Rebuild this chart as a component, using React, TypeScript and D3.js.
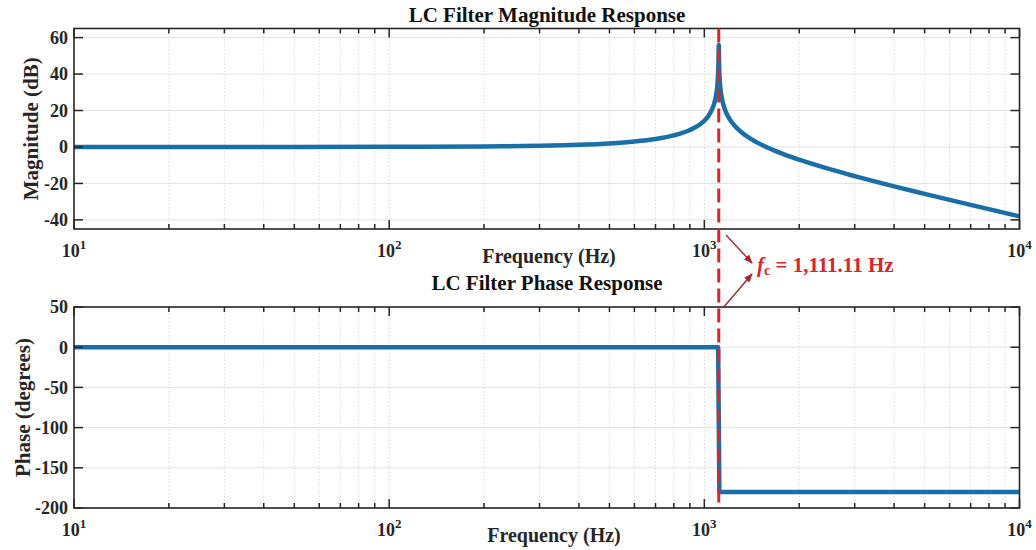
import React from "react";
import * as d3 from "d3";

// ---- data ----
const magFreq = [10, 20, 50, 100, 200, 300, 400, 500, 600, 700, 800, 900, 950, 1000, 1030, 1050, 1070, 1080, 1090, 1095, 1100, 1103, 1105, 1108, 1110, 1111.11, 1112, 1114, 1117, 1120, 1125, 1130, 1140, 1150, 1170, 1200, 1250, 1300, 1400, 1500, 1700, 2000, 2500, 3000, 4000, 5000, 7000, 10000];
const magDb = [0, 0.003, 0.018, 0.07, 0.29, 0.66, 1.21, 1.97, 3.0, 4.39, 6.35, 9.27, 11.4, 14.42, 17.03, 19.41, 22.78, 25.16, 28.48, 30.81, 34.0, 36.7, 39.2, 44.7, 51.9, 56, 53, 45.3, 39.3, 35.9, 32.0, 29.3, 25.6, 22.95, 19.3, 15.6, 11.5, 8.66, 4.62, 1.7, -2.55, -7.0, -12.2, -16.0, -21.6, -25.7, -31.75, -38.06];
const phaseFreq = [10, 1106, 1111.11, 1116, 10000];
const phaseDeg = [0, 0, -90, -180, -180];
const magTicks = [-40, -20, 0, 20, 40, 60];
const phaseTicks = [-200, -150, -100, -50, 0, 50];
const decadeExps = [1, 2, 3, 4];
const cutoffHz = 1111.11;
const cutoffLabel = "1,111.11 Hz";

const FONT = "'Liberation Serif', 'Times New Roman', serif";
const AX = "#262626";
const BLUE = "#1b6fa8";
const RED = "#d8262b";
const DARKRED = "#a8262b";

const X0 = 74, X1 = 1019.5;
const x = d3.scaleLog().domain([10, 10000]).range([X0, X1]);

const minorFreqs: number[] = [];
[10, 100, 1000].forEach((d) => {
  for (let k = 2; k <= 9; k++) minorFreqs.push(k * d);
});

type PanelProps = {
  top: number;
  bottom: number;
  domain: [number, number];
  ticks: number[];
  title: string;
  ylabel: string;
  ylabelX: number;
  titleY: number;
  xlabelX: number;
  freqs: number[];
  vals: number[];
  smooth: boolean;
  id: string;
};

function Panel(p: PanelProps) {
  const y = d3.scaleLinear().domain(p.domain).range([p.bottom, p.top]);
  const pts: [number, number][] = p.freqs.map((f, i) => [f, p.vals[i]]);
  const line = d3
    .line<[number, number]>()
    .x((d) => x(d[0]))
    .y((d) => y(d[1]))
    .curve(p.smooth ? d3.curveMonotoneX : d3.curveLinear);
  const midY = (p.top + p.bottom) / 2;
  const majorLen = 9, minorLen = 5;
  return (
    <g>
      <defs>
        <clipPath id={p.id}>
          <rect x={X0} y={p.top} width={X1 - X0} height={p.bottom - p.top} />
        </clipPath>
      </defs>
      {/* grid */}
      {minorFreqs.map((f) => (
        <line key={"mg" + f} x1={x(f)} x2={x(f)} y1={p.top} y2={p.bottom} stroke="#dcdcdc" strokeWidth={1} strokeDasharray="1.5 2" />
      ))}
      {[100, 1000].map((f) => (
        <line key={"Mg" + f} x1={x(f)} x2={x(f)} y1={p.top} y2={p.bottom} stroke="#d4d4d4" strokeWidth={1} strokeDasharray="1.5 2" />
      ))}
      {p.ticks.map((t) => (
        <line key={"hg" + t} x1={X0} x2={X1} y1={y(t)} y2={y(t)} stroke="#e3e3e3" strokeWidth={1} />
      ))}
      {/* data */}
      <path d={line(pts) || ""} fill="none" stroke={BLUE} strokeWidth={4.5} clipPath={`url(#${p.id})`} strokeLinejoin="round" />
      {/* ticks */}
      {minorFreqs.map((f) => (
        <g key={"mt" + f}>
          <line x1={x(f)} x2={x(f)} y1={p.bottom} y2={p.bottom - minorLen} stroke={AX} strokeWidth={1.5} />
          <line x1={x(f)} x2={x(f)} y1={p.top} y2={p.top + minorLen} stroke={AX} strokeWidth={1.5} />
        </g>
      ))}
      {decadeExps.map((e) => {
        const xv = x(Math.pow(10, e));
        return (
          <g key={"Mt" + e}>
            <line x1={xv} x2={xv} y1={p.bottom} y2={p.bottom - majorLen} stroke={AX} strokeWidth={1.5} />
            <line x1={xv} x2={xv} y1={p.top} y2={p.top + majorLen} stroke={AX} strokeWidth={1.5} />
            <text x={xv} y={p.bottom + 28} textAnchor="middle" fontFamily={FONT} fontWeight="bold" fontSize={18} fill={AX}>
              10<tspan fontSize={13} dy={-8}>{e}</tspan>
            </text>
          </g>
        );
      })}
      {p.ticks.map((t) => (
        <g key={"yt" + t}>
          <line x1={X0} x2={X0 + majorLen} y1={y(t)} y2={y(t)} stroke={AX} strokeWidth={1.5} />
          <line x1={X1} x2={X1 - majorLen} y1={y(t)} y2={y(t)} stroke={AX} strokeWidth={1.5} />
          <text x={X0 - 6} y={y(t)} dy="0.35em" textAnchor="end" fontFamily={FONT} fontWeight="bold" fontSize={18} fill={AX}>
            {t}
          </text>
        </g>
      ))}
      {/* box */}
      <rect x={X0} y={p.top} width={X1 - X0} height={p.bottom - p.top} fill="none" stroke={AX} strokeWidth={1.6} />
      {/* labels */}
      <text x={547} y={p.titleY} textAnchor="middle" fontFamily={FONT} fontWeight="bold" fontSize={21} fill="#111">
        {p.title}
      </text>
      <text x={p.xlabelX} y={p.bottom + 33.5} textAnchor="middle" fontFamily={FONT} fontWeight="bold" fontSize={20} fill={AX}>
        Frequency (Hz)
      </text>
      <text transform={`translate(${p.ylabelX},${midY}) rotate(-90)`} textAnchor="middle" fontFamily={FONT} fontWeight="bold" fontSize={21} fill={AX}>
        {p.ylabel}
      </text>
    </g>
  );
}

export default function App() {
  const xc = x(cutoffHz);
  return (
    <svg width={1036} height={550} style={{ position: "absolute", left: 0, top: 0, background: "#fff" }}>
      <defs>
        <marker id="ah" viewBox="0 0 10 10" refX={9} refY={5} markerWidth={9} markerHeight={9} markerUnits="userSpaceOnUse" orient="auto">
          <path d="M0,1 L10,5 L0,9 z" fill={DARKRED} />
        </marker>
      </defs>
      <Panel id="c1" top={28.5} bottom={229} domain={[-45, 65]} ticks={magTicks} title="LC Filter Magnitude Response" ylabel="Magnitude (dB)" ylabelX={38} titleY={22} xlabelX={549} freqs={magFreq} vals={magDb} smooth={true} />
      <Panel id="c2" top={307} bottom={508} domain={[-200, 50]} ticks={phaseTicks} title="LC Filter Phase Response" ylabel="Phase (degrees)" ylabelX={29.5} titleY={290} xlabelX={554} freqs={phaseFreq} vals={phaseDeg} smooth={false} />
      {/* cutoff marker */}
      <line x1={xc} x2={xc} y1={28.5} y2={508} stroke={RED} strokeWidth={3} strokeDasharray="14 6" />
      <line x1={726} y1={235} x2={752} y2={263} stroke={DARKRED} strokeWidth={1.4} markerEnd="url(#ah)" />
      <line x1={723} y1={308} x2={752} y2={274} stroke={DARKRED} strokeWidth={1.4} markerEnd="url(#ah)" />
      <text x={757} y={272} fontFamily={FONT} fontWeight="bold" fontSize={21} fill={RED}>
        <tspan fontStyle="italic">f</tspan>
        <tspan fontSize={14} dy={3}>c</tspan>
        <tspan dy={-3}>{" = " + cutoffLabel}</tspan>
      </text>
    </svg>
  );
}
